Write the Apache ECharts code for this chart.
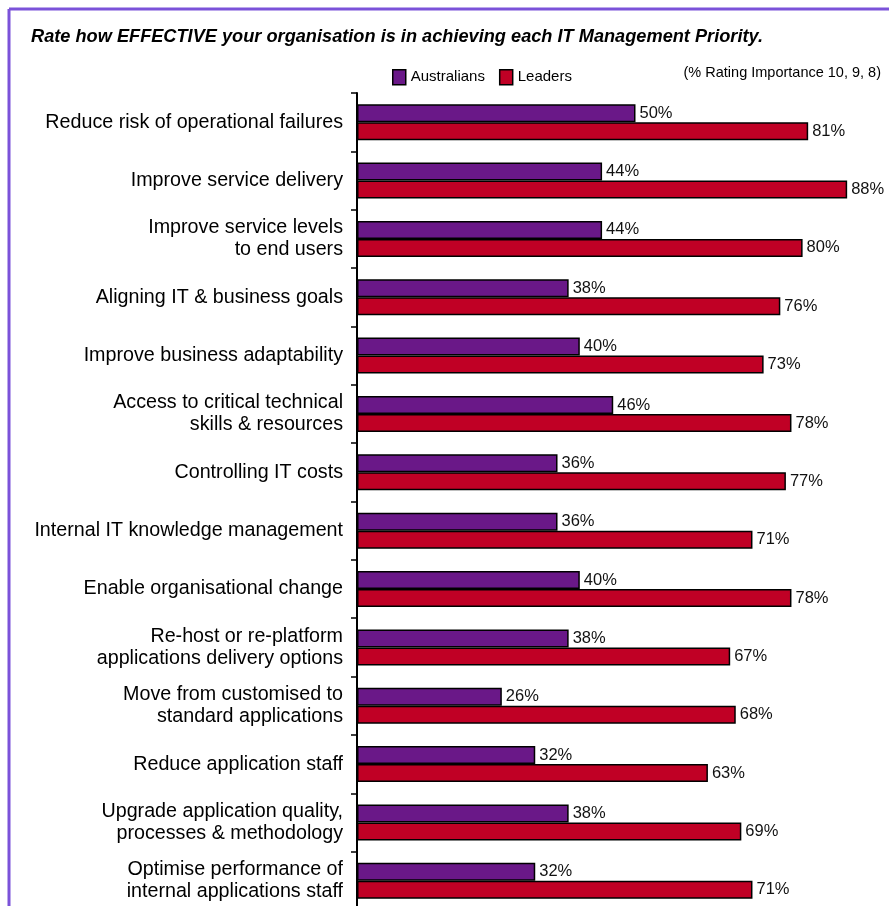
<!DOCTYPE html>
<html><head><meta charset="utf-8">
<script src="https://cdn.jsdelivr.net/npm/echarts@6/dist/echarts.min.js"></script>
<style>html,body{margin:0;padding:0;background:#fff}#c{width:889px;height:906px}</style>
</head><body><div id="c"></div>
<script>
var categories = [
  "Reduce risk of operational failures",
  "Improve service delivery",
  "Improve service levels\nto end users",
  "Aligning IT & business goals",
  "Improve business adaptability",
  "Access to critical technical\nskills & resources",
  "Controlling IT costs",
  "Internal IT knowledge management",
  "Enable organisational change",
  "Re-host or re-platform\napplications delivery options",
  "Move from customised to\nstandard applications",
  "Reduce application staff",
  "Upgrade application quality,\nprocesses & methodology",
  "Optimise performance of\ninternal applications staff"
];
var australians = [50, 44, 44, 38, 40, 46, 36, 36, 40, 38, 26, 32, 38, 32];
var leaders = [81, 88, 80, 76, 73, 78, 77, 71, 78, 67, 68, 63, 69, 71];
var seriesNames = ["Australians", "Leaders"];
var titleText = "Rate how EFFECTIVE your organisation is in achieving each IT Management Priority.";
var noteText = "(% Rating Importance 10, 9, 8)";

var FONT = '"Liberation Sans", Arial, sans-serif';
var chart = echarts.init(document.getElementById('c'));
var labelCfg = {show: true, position: 'right', distance: 4, formatter: '{c}%', color: '#111', fontFamily: FONT, fontSize: 16.5};
chart.setOption({
  animation: false,
  backgroundColor: '#fff',
  title: {text: titleText, left: 26, top: 23,
    textStyle: {fontFamily: FONT, fontSize: 18.2, fontWeight: 'bold', fontStyle: 'italic', color: '#000'}},
  legend: {data: seriesNames, left: 387, top: 64, itemWidth: 13, itemHeight: 15, itemGap: 14, icon: 'rect',
    textStyle: {fontFamily: FONT, fontSize: 15, color: '#000'},
    itemStyle: {borderColor: '#000', borderWidth: 1.5}},
  graphic: [
    {type: 'line', shape: {x1: 9, y1: 9, x2: 889, y2: 9}, style: {stroke: '#7B52D9', lineWidth: 3}},
    {type: 'line', shape: {x1: 9, y1: 9, x2: 9, y2: 906}, style: {stroke: '#7B52D9', lineWidth: 3}},
    {type: 'text', right: 8, top: 65, style: {text: noteText, fontFamily: FONT, fontSize: 14.5, fill: '#000'}}
  ],
  grid: {left: 357, top: 93, width: 557, height: 817, containLabel: false, outerBoundsMode: 'none'},
  xAxis: {type: 'value', min: 0, max: 100, show: false},
  yAxis: {type: 'category', data: categories, inverse: true,
    axisLine: {lineStyle: {color: '#000', width: 2}},
    axisTick: {show: true, length: 6, lineStyle: {color: '#000', width: 1.5}},
    axisLabel: {fontFamily: FONT, fontSize: 19.7, color: '#000', margin: 14, lineHeight: 22, align: 'right'}},
  series: [
    {name: seriesNames[0], type: 'bar', data: australians, barWidth: 18, barGap: '0%',
      itemStyle: {color: '#6A1888', borderColor: '#000', borderWidth: 1.5}, label: labelCfg},
    {name: seriesNames[1], type: 'bar', data: leaders, barWidth: 18, barGap: '0%',
      itemStyle: {color: '#C00025', borderColor: '#000', borderWidth: 1.5}, label: labelCfg}
  ]
});
</script></body></html>
